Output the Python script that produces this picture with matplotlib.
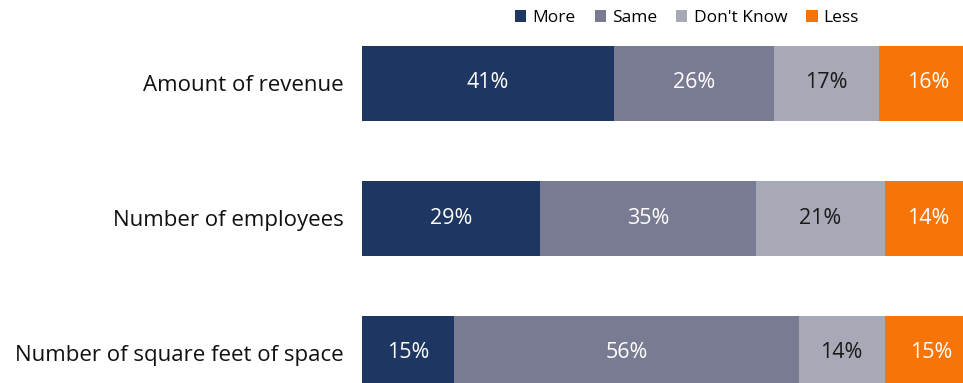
import matplotlib
matplotlib.use("Agg")
import matplotlib.pyplot as plt
from matplotlib.patches import Patch

categories = ["Amount of revenue", "Number of employees", "Number of square feet of space"]
series_names = ["More", "Same", "Don't Know", "Less"]
more = [41, 29, 15]
same = [26, 35, 56]
dont_know = [17, 21, 14]
less = [16, 14, 15]

colors = ["#1d3762", "#797b92", "#a7a9b6", "#f77408"]
text_colors = ["white", "white", "#1a1a1a", "white"]

plt.rcParams["font.family"] = ["Open Sans", "DejaVu Sans"]

W, H = 963, 383
fig = plt.figure(figsize=(W / 100, H / 100), dpi=100)
left_px = 362
ax = fig.add_axes([left_px / W, 0, (W - left_px) / W, 1])

px_per_unit = 6.15
ax.set_xlim(0, (W - left_px) / px_per_unit)
row_px = 135
first_center = 83
ax.set_ylim((H - first_center) / row_px, -first_center / row_px)

bar_h = 75 / row_px
ys = list(range(len(categories)))
lefts = [0] * len(categories)
for vals, col, tcol, name in zip([more, same, dont_know, less], colors, text_colors, series_names):
    ax.barh(ys, vals, left=lefts, height=bar_h, color=col, label=name, edgecolor="none")
    for y, v, l in zip(ys, vals, lefts):
        ax.text(l + v / 2, y, f"{v}%", ha="center", va="center", color=tcol, fontsize=15.5)
    lefts = [a + b for a, b in zip(lefts, vals)]

ax.set_yticks(ys)
ax.set_yticklabels(categories, fontsize=16, color="#111111")
ax.tick_params(axis="y", length=0, pad=13)
ax.set_xticks([])
for s in ax.spines.values():
    s.set_visible(False)

handles = [Patch(facecolor=c, edgecolor="none", label=n) for c, n in zip(colors, series_names)]
fig.legend(handles=handles, loc="center", bbox_to_anchor=(687 / W, 1 - 18 / H), ncol=4,
           frameon=False, fontsize=12.5, handlelength=0.65, handleheight=0.65,
           handletextpad=0.35, columnspacing=1.1, borderaxespad=0)

fig.savefig("out.png", dpi=100)
